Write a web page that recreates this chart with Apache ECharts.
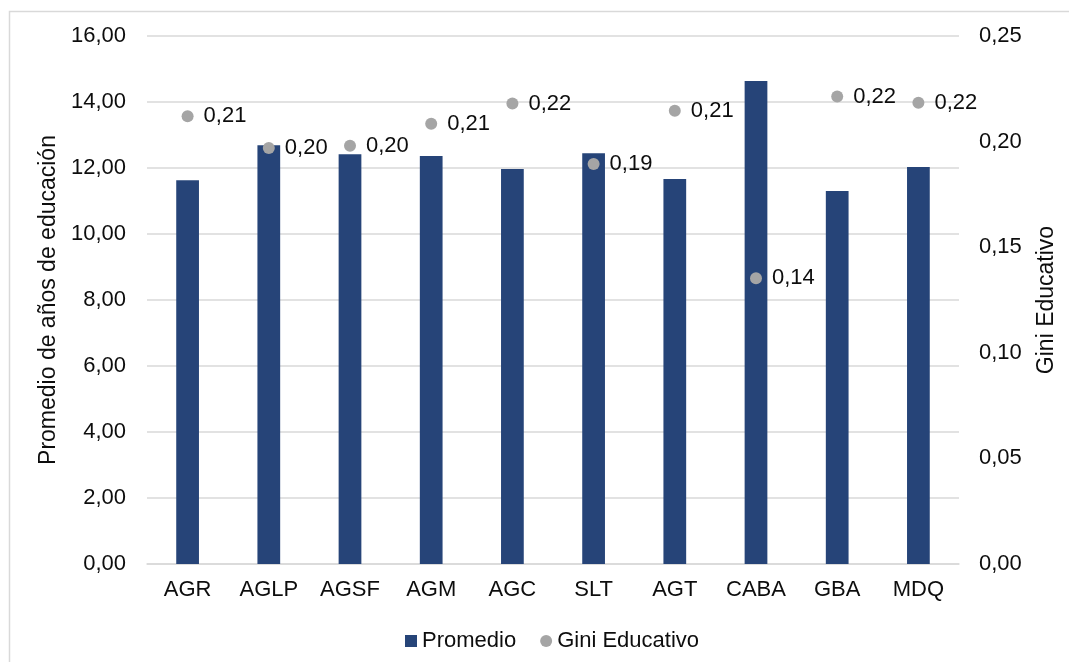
<!DOCTYPE html>
<html>
<head>
<meta charset="utf-8">
<script src="https://cdn.jsdelivr.net/npm/echarts@6/dist/echarts.min.js"></script>
<style>
  html, body { margin: 0; padding: 0; background: #ffffff; }
  #chart { width: 1069px; height: 662px; }
</style>
</head>
<body>
<div id="chart"></div>
<script>
// Aglomerados urbanos
const categories = ['AGR', 'AGLP', 'AGSF', 'AGM', 'AGC', 'SLT', 'AGT', 'CABA', 'GBA', 'MDQ'];
// Promedio de años de educación
const promedio = [11.63, 12.69, 12.42, 12.36, 11.97, 12.45, 11.67, 14.64, 11.30, 12.03];
// Gini educativo
const gini = [0.212, 0.197, 0.198, 0.2085, 0.218, 0.1894, 0.2146, 0.1353, 0.2213, 0.2184];

const FONT = '"Liberation Sans", Arial, sans-serif';
const TEXT = '#0d0d0d';
const GRID = '#d9d9d9';

const fmt = (v, d) => Number(v).toFixed(d).replace('.', ',');

const chart = echarts.init(document.getElementById('chart'), null, { renderer: 'canvas' });

chart.setOption({
  backgroundColor: '#ffffff',
  animation: false,
  textStyle: { fontFamily: FONT },
  graphic: [{
    type: 'rect',
    shape: { x: 9.5, y: 11.5, width: 1100, height: 700 },
    style: { fill: 'none', stroke: GRID, lineWidth: 1.5 },
    silent: true,
    z: -10
  }],
  grid: { left: 147, right: 110, top: 36, bottom: 98, containLabel: false },
  legend: {
    left: 400,
    top: 625,
    itemGap: 24,
    itemWidth: 12,
    itemHeight: 12,
    textStyle: { fontFamily: FONT, fontSize: 22, color: TEXT },
    data: [
      { name: 'Promedio', icon: 'rect' },
      { name: 'Gini Educativo', icon: 'circle' }
    ]
  },
  xAxis: {
    type: 'category',
    data: categories,
    axisLine: { show: true, lineStyle: { color: GRID, width: 1.5 } },
    axisTick: { show: false },
    axisLabel: { fontFamily: FONT, fontSize: 22, color: TEXT, margin: 15 },
    splitLine: { show: false }
  },
  yAxis: [
    {
      type: 'value',
      min: 0, max: 16, interval: 2,
      name: 'Promedio de años de educación',
      nameLocation: 'middle',
      nameRotate: 90,
      nameGap: 86,
      nameTextStyle: { fontFamily: FONT, fontSize: 23, color: TEXT },
      axisLine: { show: false },
      axisTick: { show: false },
      axisLabel: { fontFamily: FONT, fontSize: 22, color: TEXT, margin: 21, formatter: v => fmt(v, 2) },
      splitLine: { show: true, lineStyle: { color: GRID, width: 1.5 } }
    },
    {
      type: 'value',
      min: 0, max: 0.25, interval: 0.05,
      position: 'right',
      name: 'Gini Educativo',
      nameLocation: 'middle',
      nameRotate: 90,
      nameGap: 76,
      nameTextStyle: { fontFamily: FONT, fontSize: 23, color: TEXT },
      axisLine: { show: false },
      axisTick: { show: false },
      axisLabel: { fontFamily: FONT, fontSize: 22, color: TEXT, margin: 20, formatter: v => fmt(v, 2) },
      splitLine: { show: false }
    }
  ],
  series: [
    {
      name: 'Promedio',
      type: 'bar',
      yAxisIndex: 0,
      data: promedio,
      barWidth: '28%',
      itemStyle: { color: '#264478' },
      z: 2
    },
    {
      name: 'Gini Educativo',
      type: 'scatter',
      yAxisIndex: 1,
      data: gini,
      symbol: 'circle',
      symbolSize: 12,
      itemStyle: { color: '#a5a5a5', opacity: 1 },
      label: {
        show: true,
        position: 'right',
        distance: 10,
        fontFamily: FONT,
        fontSize: 22,
        color: TEXT,
        opacity: 1,
        formatter: p => fmt(p.value, 2)
      },
      z: 3
    }
  ]
});
</script>
</body>
</html>
